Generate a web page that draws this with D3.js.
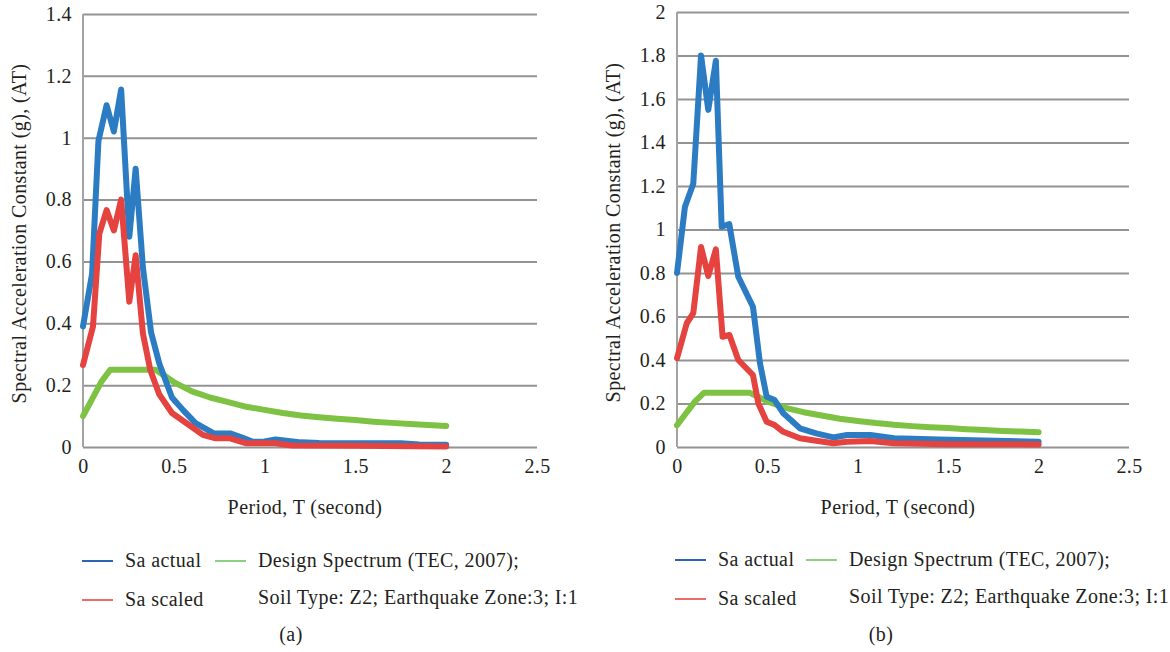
<!DOCTYPE html>
<html>
<head>
<meta charset="utf-8">
<script src="https://cdn.jsdelivr.net/npm/d3@7"></script>
<style>
  body { margin: 0; background: #fff; }
  svg { display: block; }
  text { font-family: "Liberation Serif", "DejaVu Serif", serif; fill: #231f20; letter-spacing: 0.4px; }
</style>
</head>
<body>
<svg id="chart" width="1170" height="652"></svg>
<script>
// ---- Tick values ----
const periodTicks = [0, 0.5, 1, 1.5, 2, 2.5];
const saTicksA = [0, 0.2, 0.4, 0.6, 0.8, 1, 1.2, 1.4];
const saTicksB = [0, 0.2, 0.4, 0.6, 0.8, 1, 1.2, 1.4, 1.6, 1.8, 2];

// ---- Design spectrum (TEC, 2007), Z2, zone 3, I = 1 ----
const periodDesign = [0, 0.05, 0.1, 0.15, 0.2, 0.3, 0.4, 0.5, 0.6, 0.7, 0.8, 0.9, 1.0,
  1.1, 1.2, 1.3, 1.4, 1.5, 1.6, 1.7, 1.8, 1.9, 2.0];
const saDesign = [0.10, 0.155, 0.21, 0.25, 0.25, 0.25, 0.25, 0.21, 0.18, 0.16, 0.145, 0.13, 0.12,
  0.11, 0.102, 0.096, 0.091, 0.087, 0.082, 0.078, 0.074, 0.071, 0.068];

// ---- Record (a) ----
const periodActualA = [0, 0.05, 0.085, 0.13, 0.17, 0.21, 0.255, 0.29, 0.33, 0.375, 0.42, 0.49,
  0.55, 0.62, 0.72, 0.81, 0.88, 0.935, 1.0, 1.06, 1.12, 1.2, 1.3, 1.5, 1.75, 1.85, 2.0];
const saActualA = [0.39, 0.56, 0.99, 1.105, 1.02, 1.156, 0.68, 0.90, 0.58, 0.37, 0.27, 0.16,
  0.12, 0.077, 0.044, 0.044, 0.03, 0.017, 0.018, 0.024, 0.02, 0.015, 0.013, 0.012, 0.012, 0.008, 0.007];

const periodScaledA = [0, 0.055, 0.09, 0.13, 0.17, 0.21, 0.255, 0.29, 0.33, 0.37, 0.42, 0.49,
  0.57, 0.66, 0.73, 0.81, 0.9, 1.06, 1.15, 1.5, 2.0];
const saScaledA = [0.265, 0.39, 0.69, 0.766, 0.70, 0.80, 0.47, 0.62, 0.367, 0.25, 0.17, 0.11,
  0.077, 0.039, 0.028, 0.028, 0.012, 0.012, 0.005, 0.004, 0.002];

// ---- Record (b) ----
const periodActualB = [0, 0.044, 0.09, 0.133, 0.173, 0.215, 0.247, 0.289, 0.339, 0.42, 0.459,
  0.496, 0.54, 0.588, 0.68, 0.77, 0.865, 0.94, 1.07, 1.2, 1.45, 1.7, 2.0];
const saActualB = [0.80, 1.105, 1.21, 1.80, 1.55, 1.776, 1.013, 1.025, 0.783, 0.645, 0.385,
  0.231, 0.216, 0.155, 0.086, 0.063, 0.044, 0.055, 0.055, 0.04, 0.035, 0.03, 0.024];

const periodScaledB = [0, 0.054, 0.09, 0.133, 0.173, 0.215, 0.252, 0.29, 0.339, 0.42, 0.45,
  0.496, 0.54, 0.588, 0.68, 0.77, 0.865, 0.94, 1.07, 1.2, 1.5, 2.0];
const saScaledB = [0.408, 0.569, 0.615, 0.92, 0.786, 0.909, 0.507, 0.515, 0.40, 0.331, 0.20,
  0.116, 0.101, 0.07, 0.04, 0.029, 0.017, 0.024, 0.028, 0.017, 0.013, 0.012];

// ---- Text ----
const xTitle = "Period, T (second)";
const yTitle = "Spectral Acceleration Constant (g), (AT)";
const seriesNames = ["Sa actual", "Sa scaled", "Design Spectrum (TEC, 2007);"];
const designNote = "Soil Type: Z2; Earthquake Zone:3; I:1";

const colors = { actual: "#2c7cc4", scaled: "#e4433f", design: "#7dc243" };
const legendColors = { actual: "#2b63b5", scaled: "#ee6b6b", design: "#8ccf84" };
const fontSize = 20;

const svg = d3.select("#chart");

function zip(xs, ys) { return xs.map((x, i) => [x, ys[i]]); }

function drawPanel(p) {
  const x = d3.scaleLinear().domain([0, 2.5]).range([p.left, p.right]);
  const y = d3.scaleLinear().domain([0, p.yMax]).range([p.bottom, p.top]);
  const g = svg.append("g");

  // horizontal gridlines with value labels
  const yAxis = g.append("g")
    .attr("transform", `translate(${p.left},0)`)
    .call(d3.axisLeft(y).tickValues(p.yTicks).tickSize(-(p.right - p.left))
      .tickPadding(11).tickFormat(d => String(d)));
  yAxis.select(".domain").remove();
  yAxis.selectAll("line").attr("stroke", "#939393").attr("stroke-width", 2);
  yAxis.selectAll("text").attr("font-size", fontSize).attr("fill", "#231f20")
    .style("font-family", '"Liberation Serif", serif');

  // vertical axis line
  g.append("line").attr("x1", p.left).attr("x2", p.left)
    .attr("y1", y(p.yMax)).attr("y2", y(0))
    .attr("stroke", "#a3a3a3").attr("stroke-width", 2);

  // period labels
  const xAxis = g.append("g")
    .attr("transform", `translate(0,${p.bottom})`)
    .call(d3.axisBottom(x).tickValues(periodTicks).tickSize(0).tickPadding(12)
      .tickFormat(d => String(d)));
  xAxis.select(".domain").remove();
  xAxis.selectAll("text").attr("font-size", fontSize).attr("fill", "#231f20")
    .style("font-family", '"Liberation Serif", serif');

  // spectra: design first, then actual, scaled on top
  const line = d3.line().x(d => x(d[0])).y(d => y(d[1]));
  const series = [
    [zip(periodDesign, saDesign), colors.design],
    [zip(p.tActual, p.saActual), colors.actual],
    [zip(p.tScaled, p.saScaled), colors.scaled]
  ];
  series.forEach(([data, c]) => {
    g.append("path").datum(data).attr("d", line)
      .attr("fill", "none").attr("stroke", c).attr("stroke-width", 6)
      .attr("stroke-linejoin", "round").attr("stroke-linecap", "round");
  });

  // titles
  g.append("text").attr("x", (p.left + p.right) / 2 - 5).attr("y", p.bottom + 67)
    .attr("text-anchor", "middle").attr("font-size", fontSize).text(xTitle);
  g.append("text")
    .attr("transform", `translate(${p.left - 57},${(p.top + p.bottom) / 2 + 3}) rotate(-90)`)
    .attr("text-anchor", "middle").attr("font-size", fontSize).text(yTitle);

  // legend
  const L = p.legend;
  const items = [
    { x: L.x, y: L.y1, c: legendColors.actual, t: seriesNames[0] },
    { x: L.x, y: L.y2, c: legendColors.scaled, t: seriesNames[1] },
    { x: L.x2, y: L.y1, c: legendColors.design, t: seriesNames[2] }
  ];
  items.forEach(it => {
    g.append("line").attr("x1", it.x).attr("x2", it.x + 31)
      .attr("y1", it.y).attr("y2", it.y).attr("stroke", it.c).attr("stroke-width", 2);
    g.append("text").attr("x", it.x + 43).attr("y", it.y + 6)
      .attr("font-size", fontSize).text(it.t);
  });
  g.append("text").attr("x", L.x2 + 43).attr("y", L.y2 + 4)
    .attr("font-size", fontSize).text(designNote);
  g.append("text").attr("x", p.caption).attr("y", 641)
    .attr("text-anchor", "middle").attr("font-size", fontSize).text(p.label);
}

drawPanel({
  left: 83, right: 537, top: 14, bottom: 447, yMax: 1.4, yTicks: saTicksA,
  tActual: periodActualA, saActual: saActualA, tScaled: periodScaledA, saScaled: saScaledA,
  legend: { x: 82, x2: 215, y1: 561, y2: 600 }, caption: 291, label: "(a)"
});
drawPanel({
  left: 677, right: 1129, top: 12, bottom: 447, yMax: 2, yTicks: saTicksB,
  tActual: periodActualB, saActual: saActualB, tScaled: periodScaledB, saScaled: saScaledB,
  legend: { x: 675, x2: 806, y1: 560, y2: 599 }, caption: 881, label: "(b)"
});
</script>
</body>
</html>
